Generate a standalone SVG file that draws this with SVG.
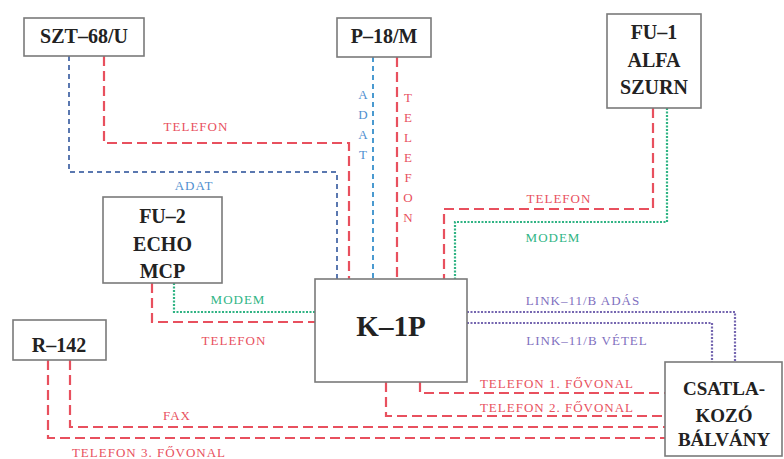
<svg xmlns="http://www.w3.org/2000/svg" width="784" height="459" viewBox="0 0 784 459">
<style>
.box{fill:#fff;stroke:#7a7a7a;stroke-width:1.6}
.nt{font-family:"Liberation Serif","Times New Roman",serif;font-weight:bold;font-size:20px;fill:#222;text-anchor:middle}
.lb{font-family:"Liberation Serif","Times New Roman",serif;font-size:13px;letter-spacing:1px;text-anchor:middle}
.tel{fill:none;stroke:#e8505e;stroke-width:2.2;stroke-dasharray:10 5}
.adat{fill:none;stroke:#4a9ad0;stroke-width:2;stroke-dasharray:5 4}
.adat2{fill:none;stroke:#5a78b0;stroke-width:2;stroke-dasharray:5 4}
.modem{fill:none;stroke:#2fb383;stroke-width:2.2;stroke-dasharray:2 1.5}
.link{fill:none;stroke:#7566b0;stroke-width:2.2;stroke-dasharray:2 1.5}
.cr{fill:#e8505e}.cb{fill:#4f8fd0}.cg{fill:#30b585}.cp{fill:#7f70c0}
</style>
<rect width="784" height="459" fill="#fff"/>
<g id="connectors">
<path class="adat2" d="M69,56 V172 H337 V279"/>
<path class="tel" d="M104,56 V143 H349 V279"/>
<path class="adat" d="M373,57 V279"/>
<path class="tel" d="M397,57 V279"/>
<path class="tel" d="M653,108 V209 H444 V279"/>
<path class="modem" d="M667,108 V222 H455 V279"/>
<path class="tel" d="M152,283 V322 H315"/>
<path class="modem" d="M174,283 V312 H315"/>
<path class="link" d="M467,312 H735 V362"/>
<path class="link" d="M467,323 H712 V362"/>
<path class="tel" d="M420,382 V393 H665"/>
<path class="tel" d="M386,382 V416 H665"/>
<path class="tel" d="M70,360 V427 H665"/>
<path class="tel" d="M48,360 V438 H665"/>
</g>
<g id="labels">
<text class="lb cr" x="196" y="131">TELEFON</text>
<text class="lb cb" x="194" y="190">ADAT</text>
<g class="lb cb" style="letter-spacing:0">
<text x="363" y="99">A</text><text x="363" y="119">D</text><text x="363" y="139">A</text><text x="363" y="159">T</text>
</g>
<g class="lb cr" style="letter-spacing:0">
<text x="408" y="102">T</text><text x="408" y="122">E</text><text x="408" y="142">L</text><text x="408" y="162">E</text><text x="408" y="182">F</text><text x="408" y="202">O</text><text x="408" y="222">N</text>
</g>
<text class="lb cr" x="559" y="203">TELEFON</text>
<text class="lb cg" x="553" y="242">MODEM</text>
<text class="lb cg" x="238" y="304">MODEM</text>
<text class="lb cr" x="234" y="345">TELEFON</text>
<text class="lb cp" x="583" y="305">LINK–11/B ADÁS</text>
<text class="lb cp" x="587" y="345">LINK–11/B VÉTEL</text>
<text class="lb cr" x="557" y="388">TELEFON 1. FŐVONAL</text>
<text class="lb cr" x="557" y="412">TELEFON 2. FŐVONAL</text>
<text class="lb cr" x="177" y="420">FAX</text>
<text class="lb cr" x="149" y="457">TELEFON 3. FŐVONAL</text>
</g>
<g id="szt">
<rect class="box" x="24" y="18" width="120" height="38"/>
<text class="nt" x="84" y="43">SZT–68/U</text>
</g>
<g id="p18">
<rect class="box" x="337" y="18" width="94" height="39"/>
<text class="nt" x="384" y="43">P–18/M</text>
</g>
<g id="fu1">
<rect class="box" x="607" y="14" width="94" height="94"/>
<text class="nt" x="654" y="39">FU–1</text>
<text class="nt" x="654" y="67">ALFA</text>
<text class="nt" x="654" y="94">SZURN</text>
</g>
<g id="fu2">
<rect class="box" x="103" y="197" width="119" height="86"/>
<text class="nt" x="162.5" y="223">FU–2</text>
<text class="nt" x="162.5" y="251">ECHO</text>
<text class="nt" x="162.5" y="278">MCP</text>
</g>
<g id="r142">
<rect class="box" x="13" y="320" width="93" height="40"/>
<text class="nt" x="59" y="352">R–142</text>
</g>
<g id="k1p">
<rect class="box" x="315" y="279" width="152" height="103"/>
<text class="nt" x="391" y="336" style="font-size:29px">K–1P</text>
</g>
<g id="csatla">
<rect class="box" x="665" y="362" width="117" height="94"/>
<text class="nt" x="724" y="395" style="font-size:19px">CSATLA-</text>
<text class="nt" x="724" y="422" style="font-size:19px">KOZÓ</text>
<text class="nt" x="724" y="446" style="font-size:19px">BÁLVÁNY</text>
</g>
</svg>
